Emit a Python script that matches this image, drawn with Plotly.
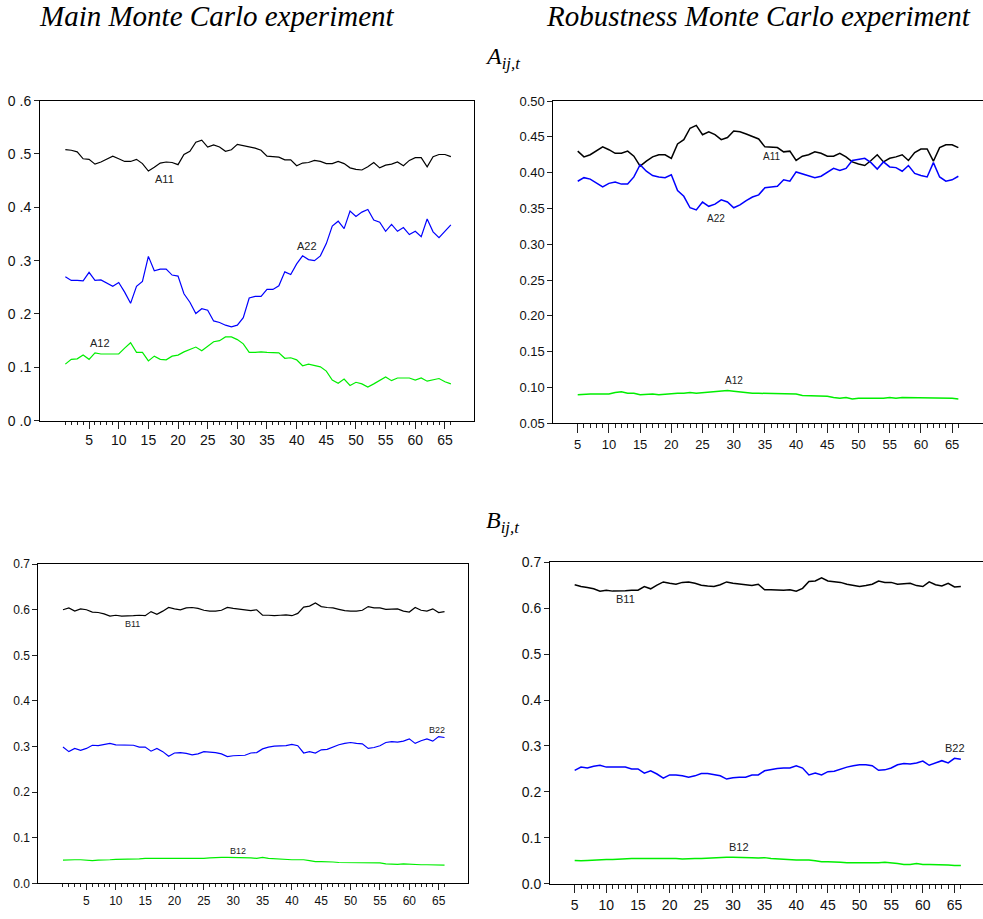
import plotly.graph_objects as go

# ---------------- data ----------------
t_main = list(range(1, 67))
t_rob = list(range(5, 67))

a11_main = [0.508, 0.507, 0.504, 0.491, 0.490, 0.481, 0.485, 0.490, 0.496, 0.491,
            0.486, 0.486, 0.490, 0.482, 0.468, 0.475, 0.483, 0.485, 0.484, 0.480,
            0.499, 0.505, 0.522, 0.526, 0.513, 0.517, 0.513, 0.505, 0.508, 0.518,
            0.516, 0.514, 0.511, 0.507, 0.496, 0.495, 0.494, 0.489, 0.489, 0.478,
            0.483, 0.484, 0.488, 0.486, 0.482, 0.482, 0.486, 0.482, 0.474, 0.471,
            0.470, 0.476, 0.484, 0.474, 0.479, 0.481, 0.485, 0.478, 0.488, 0.493,
            0.493, 0.476, 0.495, 0.499, 0.499, 0.495]
a22_main = [0.270, 0.263, 0.263, 0.262, 0.278, 0.263, 0.264, 0.258, 0.252, 0.259,
            0.241, 0.220, 0.252, 0.261, 0.308, 0.281, 0.284, 0.284, 0.273, 0.271,
            0.238, 0.222, 0.201, 0.210, 0.207, 0.187, 0.184, 0.179, 0.176, 0.179,
            0.193, 0.230, 0.233, 0.233, 0.246, 0.246, 0.253, 0.279, 0.274, 0.294,
            0.309, 0.302, 0.300, 0.309, 0.332, 0.365, 0.374, 0.360, 0.393, 0.383,
            0.391, 0.396, 0.376, 0.372, 0.355, 0.368, 0.355, 0.362, 0.349, 0.355,
            0.345, 0.378, 0.354, 0.343, 0.355, 0.367]
a12_main = [0.106, 0.115, 0.116, 0.123, 0.115, 0.127, 0.125, 0.125, 0.126, 0.125,
            0.136, 0.146, 0.128, 0.128, 0.112, 0.121, 0.115, 0.114, 0.121, 0.123,
            0.129, 0.134, 0.138, 0.131, 0.140, 0.148, 0.150, 0.157, 0.157, 0.152,
            0.144, 0.128, 0.128, 0.129, 0.128, 0.128, 0.127, 0.117, 0.118, 0.114,
            0.103, 0.106, 0.104, 0.101, 0.093, 0.076, 0.070, 0.078, 0.066, 0.072,
            0.069, 0.063, 0.069, 0.076, 0.082, 0.075, 0.080, 0.080, 0.080, 0.076,
            0.080, 0.074, 0.076, 0.079, 0.073, 0.069]

a11_rob = [0.430, 0.422, 0.425, 0.430, 0.436, 0.432, 0.427, 0.427, 0.430, 0.423,
           0.409, 0.416, 0.422, 0.425, 0.425, 0.420, 0.440, 0.446, 0.462, 0.466,
           0.453, 0.457, 0.453, 0.446, 0.449, 0.458, 0.457, 0.454, 0.450, 0.447,
           0.436, 0.436, 0.435, 0.429, 0.430, 0.417, 0.423, 0.425, 0.429, 0.427,
           0.423, 0.423, 0.427, 0.422, 0.415, 0.412, 0.410, 0.417, 0.425, 0.415,
           0.420, 0.422, 0.425, 0.417, 0.428, 0.433, 0.433, 0.416, 0.435, 0.439,
           0.439, 0.435]
a22_rob = [0.388, 0.393, 0.391, 0.386, 0.380, 0.385, 0.387, 0.384, 0.384, 0.394,
           0.411, 0.402, 0.396, 0.394, 0.393, 0.397, 0.375, 0.367, 0.351, 0.348,
           0.359, 0.353, 0.356, 0.362, 0.359, 0.351, 0.355, 0.361, 0.366, 0.369,
           0.379, 0.380, 0.381, 0.390, 0.388, 0.401, 0.398, 0.396, 0.393, 0.395,
           0.401, 0.406, 0.403, 0.406, 0.417, 0.418, 0.420, 0.414, 0.405, 0.415,
           0.408, 0.407, 0.402, 0.410, 0.399, 0.396, 0.394, 0.414, 0.394, 0.388,
           0.390, 0.395]
a12_rob = [0.090, 0.091, 0.091, 0.091, 0.091, 0.091, 0.093, 0.094, 0.092, 0.092,
           0.090, 0.091, 0.091, 0.090, 0.091, 0.091, 0.092, 0.092, 0.093, 0.092,
           0.093, 0.094, 0.095, 0.096, 0.096, 0.095, 0.094, 0.092, 0.092, 0.092,
           0.092, 0.092, 0.092, 0.091, 0.091, 0.091, 0.089, 0.089, 0.089, 0.089,
           0.088, 0.086, 0.085, 0.086, 0.084, 0.085, 0.085, 0.084, 0.084, 0.085,
           0.086, 0.085, 0.086, 0.086, 0.086, 0.085, 0.086, 0.085, 0.085, 0.086,
           0.085, 0.084]

b11_main = [0.600, 0.604, 0.597, 0.602, 0.600, 0.595, 0.594, 0.591, 0.586, 0.588,
            0.586, 0.586, 0.587, 0.588, 0.587, 0.596, 0.590, 0.597, 0.605, 0.602,
            0.600, 0.604, 0.605, 0.603, 0.599, 0.597, 0.597, 0.599, 0.605, 0.603,
            0.601, 0.599, 0.598, 0.600, 0.588, 0.588, 0.587, 0.588, 0.589, 0.587,
            0.592, 0.606, 0.608, 0.615, 0.607, 0.605, 0.604, 0.601, 0.598, 0.597,
            0.597, 0.599, 0.607, 0.604, 0.604, 0.601, 0.602, 0.602, 0.597, 0.595,
            0.605, 0.599, 0.597, 0.602, 0.594, 0.596]
b22_main = [0.299, 0.289, 0.296, 0.292, 0.296, 0.303, 0.302, 0.304, 0.307, 0.304,
            0.304, 0.304, 0.303, 0.299, 0.299, 0.290, 0.296, 0.289, 0.279, 0.286,
            0.287, 0.285, 0.282, 0.284, 0.289, 0.288, 0.287, 0.284, 0.278, 0.280,
            0.281, 0.281, 0.286, 0.287, 0.295, 0.299, 0.301, 0.302, 0.302, 0.305,
            0.302, 0.286, 0.289, 0.286, 0.293, 0.294, 0.299, 0.304, 0.307, 0.309,
            0.307, 0.306, 0.296, 0.298, 0.302, 0.309, 0.311, 0.310, 0.312, 0.317,
            0.307, 0.313, 0.317, 0.312, 0.322, 0.320]
b12_main = [0.051, 0.052, 0.052, 0.052, 0.051, 0.050, 0.051, 0.051, 0.052, 0.053,
            0.053, 0.053, 0.053, 0.054, 0.055, 0.055, 0.055, 0.055, 0.055, 0.055,
            0.055, 0.054, 0.055, 0.055, 0.055, 0.056, 0.057, 0.057, 0.057, 0.057,
            0.057, 0.057, 0.056, 0.055, 0.057, 0.055, 0.054, 0.053, 0.053, 0.052,
            0.052, 0.052, 0.050, 0.048, 0.048, 0.048, 0.047, 0.046, 0.046, 0.046,
            0.046, 0.045, 0.046, 0.046, 0.045, 0.043, 0.042, 0.042, 0.043, 0.042,
            0.042, 0.041, 0.041, 0.041, 0.040, 0.040]

b11_rob = [0.651, 0.647, 0.645, 0.642, 0.637, 0.639, 0.637, 0.637, 0.638, 0.639,
           0.639, 0.647, 0.642, 0.650, 0.657, 0.654, 0.652, 0.656, 0.657, 0.654,
           0.650, 0.648, 0.647, 0.651, 0.657, 0.654, 0.652, 0.651, 0.649, 0.652,
           0.640, 0.640, 0.639, 0.639, 0.640, 0.637, 0.643, 0.658, 0.659, 0.666,
           0.659, 0.657, 0.656, 0.652, 0.649, 0.647, 0.649, 0.652, 0.659, 0.656,
           0.656, 0.652, 0.653, 0.654, 0.649, 0.647, 0.657, 0.651, 0.648, 0.654,
           0.646, 0.647]
b22_rob = [0.247, 0.254, 0.252, 0.256, 0.258, 0.254, 0.254, 0.254, 0.254, 0.250,
           0.250, 0.241, 0.246, 0.239, 0.230, 0.237, 0.237, 0.235, 0.232, 0.235,
           0.240, 0.240, 0.238, 0.235, 0.228, 0.231, 0.232, 0.232, 0.237, 0.237,
           0.246, 0.249, 0.251, 0.252, 0.252, 0.257, 0.252, 0.237, 0.241, 0.237,
           0.244, 0.245, 0.250, 0.254, 0.257, 0.259, 0.259, 0.257, 0.247, 0.248,
           0.252, 0.259, 0.262, 0.261, 0.263, 0.267, 0.258, 0.263, 0.268, 0.263,
           0.273, 0.271]
b12_rob = [0.051, 0.050, 0.051, 0.052, 0.052, 0.053, 0.053, 0.054, 0.054, 0.055,
           0.055, 0.055, 0.056, 0.055, 0.056, 0.055, 0.055, 0.054, 0.055, 0.055,
           0.055, 0.056, 0.057, 0.058, 0.058, 0.058, 0.058, 0.058, 0.057, 0.056,
           0.057, 0.055, 0.054, 0.053, 0.053, 0.052, 0.052, 0.052, 0.050, 0.048,
           0.048, 0.048, 0.047, 0.046, 0.046, 0.046, 0.046, 0.045, 0.046, 0.047,
           0.046, 0.044, 0.042, 0.042, 0.044, 0.042, 0.042, 0.042, 0.041, 0.041,
           0.040, 0.040]

yticks_a_main = [0.0, 0.1, 0.2, 0.3, 0.4, 0.5, 0.6]
ytext_a_main = ["0 .0", "0 .1", "0 .2", "0 .3", "0 .4", "0 .5", "0 .6"]
yticks_a_rob = [0.05, 0.10, 0.15, 0.20, 0.25, 0.30, 0.35, 0.40, 0.45, 0.50]
ytext_a_rob = ["0.05", "0.10", "0.15", "0.20", "0.25", "0.30", "0.35", "0.40", "0.45", "0.50"]
yticks_b = [0.0, 0.1, 0.2, 0.3, 0.4, 0.5, 0.6, 0.7]
ytext_b = ["0.0", "0.1", "0.2", "0.3", "0.4", "0.5", "0.6", "0.7"]

BLACK = "#000000"
BLUE = "#0000ff"
GREEN = "#00ee00"

SANS = "Liberation Sans, Arial, sans-serif"
NARROW = "Liberation Sans Narrow, Arial Narrow, Liberation Sans, sans-serif"
SERIF = "Liberation Serif, Times New Roman, serif"

panels = [
    dict(sfx="", t=t_main, lw=1.2,
         series=[(a11_main, BLACK), (a22_main, BLUE), (a12_main, GREEN)],
         xdom=[0.0407, 0.4822], xr=[-3.27, 69.9],
         ydom=[0.5430, 0.8974], yr=[0.0, 0.6],
         yt=yticks_a_main, ytt=ytext_a_main, font=SANS, fs=14, mirror_y=True,
         maj=7, mnr=3,
         labels=[("A11", 17.8, 0.453), ("A22", 41.8, 0.328), ("A12", 6.85, 0.146)],
         lfs=11, lfont=SANS),
    dict(sfx="2", t=t_rob, lw=1.5,
         series=[(a11_rob, BLACK), (a22_rob, BLUE), (a12_rob, GREEN)],
         xdom=[0.5629, 1.0], xr=[1.09, 69.95],
         ydom=[0.5400, 0.8970], yr=[0.05, 0.50],
         yt=yticks_a_rob, ytt=ytext_a_rob, font=NARROW, fs=13, mirror_y=False,
         maj=9, mnr=4,
         labels=[("A11", 36.1, 0.423), ("A22", 27.2, 0.336), ("A12", 30.1, 0.110)],
         lfs=10, lfont=NARROW),
    dict(sfx="3", t=t_main, lw=1.2,
         series=[(b11_main, BLACK), (b22_main, BLUE), (b12_main, GREEN)],
         xdom=[0.0390, 0.4764], xr=[-3.2, 70.05],
         ydom=[0.0305, 0.3841], yr=[0.0, 0.7],
         yt=yticks_b, ytt=ytext_b, font=SANS, fs=12, mirror_y=True,
         maj=6, mnr=3,
         labels=[("B11", 12.8, 0.569), ("B22", 64.8, 0.337), ("B12", 30.8, 0.072)],
         lfs=9, lfont=SANS),
    dict(sfx="4", t=t_rob, lw=1.5,
         series=[(b11_rob, BLACK), (b22_rob, BLUE), (b12_rob, GREEN)],
         xdom=[0.5595, 1.0], xr=[1.1, 69.5],
         ydom=[0.0301, 0.3863], yr=[0.0, 0.7],
         yt=yticks_b, ytt=ytext_b, font=NARROW, fs=14, mirror_y=False,
         maj=8, mnr=4,
         labels=[("B11", 13.0, 0.619), ("B22", 65.0, 0.296), ("B12", 31.0, 0.081)],
         lfs=11, lfont=NARROW),
]

fig = go.Figure()
annotations = []
layout_axes = {}

for p in panels:
    xa = "x" + p["sfx"]
    ya = "y" + p["sfx"]
    for vals, col in p["series"]:
        fig.add_trace(go.Scatter(x=p["t"], y=vals, mode="lines",
                                 line=dict(color=col, width=p["lw"]),
                                 xaxis=xa, yaxis=ya, showlegend=False,
                                 hoverinfo="skip"))
    major = [v for v in p["t"] if v % 5 == 0]
    minor = [v for v in p["t"] if v % 5 != 0]
    layout_axes["xaxis" + p["sfx"]] = dict(
        domain=p["xdom"], range=p["xr"], anchor=ya,
        showline=True, linecolor="black", linewidth=1, mirror=True,
        showgrid=False, zeroline=False,
        tickmode="array", tickvals=major, ticktext=[str(v) for v in major],
        ticks="outside", ticklen=p["maj"], tickwidth=1, tickcolor="#222",
        tickfont=dict(family=p["font"], size=p["fs"], color="#111"),
        minor=dict(tickmode="array", tickvals=minor, ticks="outside",
                   ticklen=p["mnr"], tickwidth=1, tickcolor="#222", showgrid=False),
    )
    layout_axes["yaxis" + p["sfx"]] = dict(
        domain=p["ydom"], range=p["yr"], anchor=xa,
        showline=True, linecolor="black", linewidth=1, mirror=p["mirror_y"],
        showgrid=False, zeroline=False,
        tickmode="array", tickvals=p["yt"], ticktext=p["ytt"],
        ticks="outside", ticklen=5, tickwidth=1, tickcolor="#222",
        tickfont=dict(family=p["font"], size=p["fs"], color="#111"),
    )
    for txt, lx, ly in p["labels"]:
        annotations.append(dict(text=txt, x=lx, y=ly, xref=xa, yref=ya,
                                showarrow=False,
                                font=dict(family=p["lfont"], size=p["lfs"], color="#222")))

title_font = dict(family=SERIF, size=29, color="black")
sub_font = dict(family=SERIF, size=24, color="black")
annotations += [
    dict(text="<i>Main Monte Carlo experiment</i>", x=217 / 983, y=1 - 8 / 919,
         xref="paper", yref="paper", showarrow=False, xanchor="center", yanchor="middle",
         font=title_font),
    dict(text="<i>Robustness Monte Carlo experiment</i>", x=758 / 983, y=1 - 8 / 919,
         xref="paper", yref="paper", showarrow=False, xanchor="center", yanchor="middle",
         font=title_font),
    dict(text="<i>A</i><sub><i>ij,t</i></sub>", x=502 / 983, y=1 - 51 / 919,
         xref="paper", yref="paper", showarrow=False, xanchor="center", yanchor="middle",
         font=sub_font),
    dict(text="<i>B</i><sub><i>ij,t</i></sub>", x=502 / 983, y=1 - 523 / 919,
         xref="paper", yref="paper", showarrow=False, xanchor="center", yanchor="middle",
         font=sub_font),
]

fig.update_layout(
    width=983, height=919,
    margin=dict(l=0, r=0, t=0, b=0),
    paper_bgcolor="white", plot_bgcolor="white",
    annotations=annotations,
    **layout_axes,
)

fig.write_html("out.html", config={"displayModeBar": False})
